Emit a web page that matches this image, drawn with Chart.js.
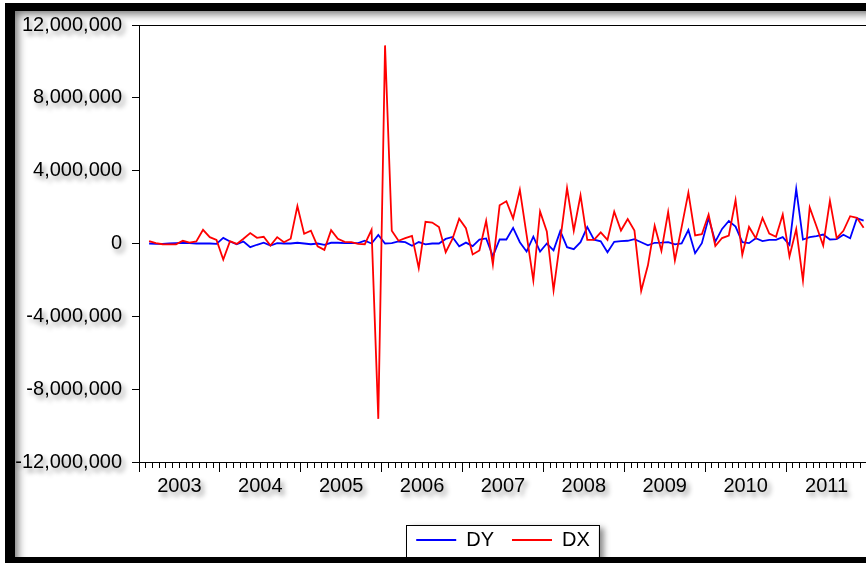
<!DOCTYPE html>
<html>
<head>
<meta charset="utf-8">
<script src="https://cdn.jsdelivr.net/npm/chart.js@4.4.1/dist/chart.umd.min.js"></script>
<style>
  html, body { margin: 0; padding: 0; background: #fff; overflow: hidden; }
  body { width: 866px; height: 563px; position: relative; }
  #frame {
    position: absolute; left: 5px; top: 3px; width: 900px; height: 546px;
    border-left: 10px solid #000; border-top: 8px solid #000; border-bottom: 12px solid #000;
    overflow: hidden; background: #fff;
    box-shadow: inset 6px 6px 9px -3px rgba(0,0,0,0.55);
  }
  #c { position: absolute; left: 0; top: 0; }
</style>
</head>
<body>
<div id="frame"><canvas id="c" width="880" height="560"></canvas></div>
<script>
// monthly observations, Feb 2003 .. Dec 2011
const months = [];
for (let y = 2003; y <= 2011; y++) {
  for (let m = 1; m <= 12; m++) {
    if (y === 2003 && m === 1) continue;
    months.push(y + '-' + String(m).padStart(2, '0'));
  }
}

const years = ['2003', '2004', '2005', '2006', '2007', '2008', '2009', '2010', '2011'];

const DY = [
  0, -20000, -20000, 0, 20000, 40000, 20000, 0, 0, 0,
  -20000, 310000, 110000, -40000, 110000, -200000, -70000, 50000, -110000, 20000,
  0, 0, 40000, 0, -40000, 0, -70000, 40000, 40000, 20000,
  20000, 20000, 150000, 0, 470000, 0, 20000, 110000, 70000, -120000,
  80000, -50000, 0, 0, 250000, 360000, -150000, 50000, -140000, 210000,
  280000, -700000, 220000, 220000, 860000, 70000, -440000, 380000, -440000, 0,
  -380000, 680000, -200000, -310000, 70000, 900000, 210000, 120000, -480000, 90000,
  130000, 150000, 240000, 70000, -100000, 40000, 50000, 80000, -50000, 10000,
  740000, -530000, 20000, 1400000, 100000, 800000, 1240000, 930000, 70000, 20000,
  290000, 130000, 200000, 200000, 350000, -70000, 3000000, 220000, 350000, 400000,
  490000, 220000, 240000, 480000, 290000, 1390000, 1260000
];

const DX = [
  130000, 20000, -40000, -50000, -50000, 150000, 50000, 110000, 750000, 350000,
  200000, -880000, 130000, -20000, 260000, 570000, 310000, 370000, -110000, 350000,
  70000, 260000, 2050000, 530000, 700000, -160000, -350000, 730000, 260000, 90000,
  70000, -20000, -40000, 750000, -9630000, 10880000, 700000, 150000, 290000, 420000,
  -1350000, 1190000, 1150000, 900000, -480000, 250000, 1360000, 840000, -600000, -380000,
  1250000, -1150000, 2100000, 2320000, 1380000, 2950000, 480000, -2030000, 1760000, 660000,
  -2570000, 200000, 3040000, 700000, 2640000, 200000, 200000, 610000, 200000, 1750000,
  710000, 1340000, 710000, -2600000, -1200000, 980000, -400000, 1730000, -930000, 900000,
  2790000, 440000, 510000, 1590000, -140000, 300000, 440000, 2380000, -620000, 910000,
  290000, 1400000, 550000, 370000, 1590000, -710000, 790000, -2030000, 1980000, 950000,
  -110000, 2350000, 300000, 700000, 1500000, 1410000, 860000
];

// month -> position on the axis (0 = start of Jan 2003, mid-month)
function monthPos(s) {
  const [y, m] = s.split('-').map(Number);
  return (y - 2003) * 12 + (m - 1) + 0.5;
}
function toPoints(vals) {
  return vals.map((v, k) => ({ x: monthPos(months[k]), y: v }));
}

Chart.defaults.font.family = '"Liberation Sans", Arial, sans-serif';
Chart.defaults.color = '#000';

// shadow behind tick labels
const labelShadow = {
  id: 'labelShadow',
  beforeDraw(chart) {
    ['y', 'years'].forEach(id => {
      const s = chart.scales[id];
      if (!s || s._shadowed) return;
      const orig = s.drawLabels.bind(s);
      s.drawLabels = function (area) {
        const ctx = this.ctx;
        ctx.save();
        ctx.shadowColor = 'rgba(0,0,0,0.45)';
        ctx.shadowBlur = 5;
        ctx.shadowOffsetX = 3;
        ctx.shadowOffsetY = 4;
        orig(area);
        ctx.restore();
      };
      s._shadowed = true;
    });
  }
};

// box around the legend
const legendBox = {
  id: 'legendBox',
  beforeDraw(chart) {
    const hb = chart.legend && chart.legend.legendHitBoxes;
    if (!hb || !hb.length) return;
    const left = Math.min(...hb.map(h => h.left)) - 10;
    const right = Math.max(...hb.map(h => h.left + h.width)) + 9;
    const top = hb[0].top - 5;
    const ctx = chart.ctx;
    ctx.save();
    ctx.shadowColor = 'rgba(0,0,0,0.45)';
    ctx.shadowBlur = 6;
    ctx.shadowOffsetX = 5;
    ctx.shadowOffsetY = 3;
    ctx.fillStyle = '#fff';
    ctx.fillRect(left, top, right - left, 60);
    ctx.restore();
    ctx.strokeStyle = '#000';
    ctx.lineWidth = 1;
    ctx.strokeRect(Math.round(left) + 0.5, Math.round(top) + 0.5, Math.round(right - left), 60);
  }
};

// frame around the plot area
const plotFrame = {
  id: 'plotFrame',
  beforeDatasetsDraw(chart) {
    const a = chart.chartArea;
    const ctx = chart.ctx;
    ctx.save();
    ctx.strokeStyle = '#000';
    ctx.lineWidth = 1;
    ctx.strokeRect(a.left + 0.5, a.top + 0.5, a.right - a.left, a.bottom - a.top);
    ctx.restore();
  }
};

new Chart(document.getElementById('c'), {
  type: 'line',
  data: {
    datasets: [
      { label: 'DY', data: toPoints(DY), borderColor: '#0000ff', backgroundColor: '#0000ff',
        borderWidth: 1.8, pointRadius: 0, tension: 0, order: 1, xAxisID: 'x', yAxisID: 'y' },
      { label: 'DX', data: toPoints(DX), borderColor: '#ff0000', backgroundColor: '#ff0000',
        borderWidth: 1.8, pointRadius: 0, tension: 0, order: 0, xAxisID: 'x', yAxisID: 'y' }
    ]
  },
  options: {
    responsive: false,
    animation: false,
    layout: { autoPadding: false, padding: { left: 0, top: 14, right: 28, bottom: 11 } },
    plugins: {
      tooltip: { enabled: false },
      legend: {
        position: 'bottom',
        fullSize: false,
        labels: {
          usePointStyle: true,
          pointStyle: 'line',
          pointStyleWidth: 40,
          padding: 18,
          color: '#000',
          font: { size: 20 },
          sort: (a, b) => a.datasetIndex - b.datasetIndex
        }
      }
    },
    scales: {
      y: {
        type: 'linear',
        min: -12000000,
        max: 12000000,
        border: { display: false },
        grid: { drawOnChartArea: false, tickLength: 7, tickColor: '#000' },
        ticks: {
          stepSize: 4000000,
          padding: 10,
          color: '#000',
          font: { size: 20 },
          callback: v => v.toLocaleString('en-US')
        },
        afterFit: s => { s.width = 124; s.paddingTop = 0; s.paddingBottom = 0; }
      },
      x: {
        type: 'linear',
        position: 'bottom',
        min: 0,
        max: 108,
        weight: 0,
        border: { display: false },
        grid: { drawOnChartArea: false, tickLength: 6, tickColor: '#000' },
        ticks: { display: false, stepSize: 1, autoSkip: false, maxTicksLimit: 200 },
        afterFit: s => { s.height = 6; }
      },
      years: {
        type: 'linear',
        position: 'bottom',
        min: 0,
        max: 108,
        weight: 1,
        border: { display: false },
        grid: { drawOnChartArea: false, tickLength: 4, tickColor: '#000' },
        ticks: {
          stepSize: 12,
          autoSkip: false,
          maxRotation: 0,
          labelOffset: 40.4,
          padding: 2,
          color: '#000',
          font: { size: 20 },
          callback: v => years[v / 12] || ''
        },
        afterFit: s => { s.height = 44; }
      }
    }
  },
  plugins: [labelShadow, legendBox, plotFrame]
});
</script>
</body>
</html>
